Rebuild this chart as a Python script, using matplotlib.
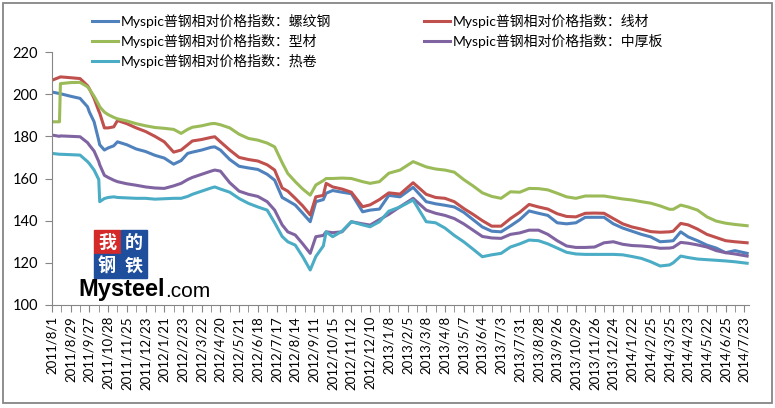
import matplotlib.pyplot as plt
from matplotlib.patches import Rectangle

plt.rcParams['font.family'] = ['Lato', 'Noto Sans CJK SC', 'DejaVu Sans']

# tick labels (one label every 20 trading days)
datas = ['2011/8/1', '2011/8/29', '2011/9/27', '2011/10/28', '2011/11/25', '2011/12/23',
         '2012/1/21', '2012/2/23', '2012/3/22', '2012/4/20', '2012/5/21', '2012/6/18',
         '2012/7/17', '2012/8/14', '2012/9/11', '2012/10/15', '2012/11/12', '2012/12/10',
         '2013/1/8', '2013/2/5', '2013/3/8', '2013/4/8', '2013/5/7', '2013/6/4',
         '2013/7/3', '2013/7/31', '2013/8/28', '2013/9/26', '2013/10/29', '2013/11/26',
         '2013/12/24', '2014/1/22', '2014/2/25', '2014/3/25', '2014/4/23', '2014/5/22',
         '2014/6/25', '2014/7/23']

# trading-day index of each sample
dias = [0, 8, 9, 20, 30, 38, 40, 45, 50, 51, 56, 60, 66, 70, 80, 90, 100, 110, 120, 130,
        138, 145, 150, 160, 170, 174, 180, 190, 200, 210, 220, 230, 238, 246, 252, 260,
        268, 276, 282, 290, 293, 300, 310, 320, 332, 340, 350, 360, 372, 386, 400, 410,
        420, 430, 440, 450, 460, 470, 480, 490, 500, 510, 520, 530, 540, 550, 560, 570,
        580, 590, 600, 610, 620, 630, 640, 650, 660, 664, 672, 680, 690, 700, 710, 720,
        730, 743]

luowengang = [201, 200.3, 200.2, 199, 198, 194, 191.5, 186.9, 178, 176, 173.5, 174.5, 175.5, 177.4,
              176, 174, 172.8, 171, 169.7, 166.8, 168.5, 171.9, 172.5, 173.5, 174.8, 175, 173.5,
              169, 165.8, 165, 164.3, 162, 159.2, 151, 149.5, 147.4, 143.5, 139.5, 149, 150, 153,
              154.3, 153.5, 152.8, 144.2, 145, 145.5, 152, 151.3, 155.8, 149, 148, 147.3, 146.5,
              144, 140.5, 137, 135, 134.7, 137.5, 140.5, 144.6, 143.5, 142.5, 139, 138.5, 139,
              141.6, 141.6, 141.6, 138.5, 136.5, 135, 133.5, 132.3, 130, 130.3, 130.5, 134.7,
              132.3, 130.5, 128.4, 127, 124.8, 125.8, 124.5]

xiancai = [206.6, 208, 208.2, 207.8, 207.4, 204, 202.5, 198, 192, 191, 184, 184, 184.5, 187.5,
           186, 184, 182.3, 180, 177.4, 172.5, 173.5, 176, 177.8, 178.5, 179.5, 179.8, 177.4,
           173.5, 170, 169, 168.3, 166.5, 164, 155.5, 154, 150.6, 147, 142.7, 151.3, 152, 157.7,
           156, 155, 153.5, 146.6, 147.5, 150, 153.2, 152.6, 158, 152.5, 151, 150.6, 149,
           145.8, 143, 140, 137.4, 137.4, 141, 144, 147.7, 146.5, 145.5, 143.3, 142, 141.8,
           143.5, 143.6, 143.5, 141, 138.5, 137, 136, 134.8, 134.5, 134.7, 135, 138.7,
           138, 136, 133.5, 132, 130.5, 130, 129.5]

xingcai = [186.9, 186.9, 205, 205.5, 205.6, 203.5, 202.3, 199, 195, 194, 191.5, 190.3, 189, 188.3,
           187.3, 186, 185, 184.2, 183.8, 183.3, 181.4, 183.3, 184.3, 185, 186, 186.1, 185.5,
           184, 181, 179, 178.2, 176.8, 175, 167.5, 162.4, 158.5, 155, 152.1, 156.9, 159, 160,
           160, 160.2, 160, 158.5, 157.7, 158.5, 162.5, 164, 168, 165.5, 164.5, 164, 163,
           159.5, 156.5, 153.2, 151.5, 150.6, 153.7, 153.5, 155.3, 155.2, 154.6, 153, 151.3,
           150.6, 151.7, 151.7, 151.7, 151, 150.3, 149.8, 149, 148.3, 147, 145.4, 145.4, 147.4,
           146.5, 145, 141.8, 139.8, 138.8, 138.2, 137.6]

zhonghouban = [180.6, 180, 180.2, 180, 179.8, 177, 175.8, 173, 168, 166.5, 161.5, 160.5, 159.2,
               158.5, 157.5, 156.8, 156, 155.5, 155.3, 156.5, 157.7, 159.5, 160.5, 162, 163.5,
               164, 163.5, 158, 154, 152.5, 151.5, 149, 145, 138, 134.7, 133.2, 129, 124.5,
               132.4, 133, 134.7, 134.3, 134.7, 139.5, 138.5, 137.9, 140.5, 143, 146.6, 150.6,
               145, 143.5, 142.5, 141, 138.5, 135.5, 132.5, 131.8, 131.6, 133.5, 134.2, 135.5,
               135.5, 133.5, 130.5, 128, 127.3, 127.3, 127.5, 129.5, 130, 128.8, 128.2, 128,
               127.6, 126.9, 127, 127.3, 129.7, 129.3, 128.5, 127.5, 125.8, 124.8, 124.2, 123.2]

rejuan = [171.9, 171.5, 171.5, 171.3, 171.1, 168, 167, 164, 159.5, 149, 150.5, 151, 151.3, 151,
          150.8, 150.6, 150.6, 150.2, 150.4, 150.6, 150.6, 151.5, 152.5, 154, 155.5, 156, 155,
          153.5, 150.5, 148.2, 146.5, 145, 139, 132.5, 130, 128.4, 122.9, 116.6, 123, 128,
          134.7, 132.4, 135, 139.5, 138, 137.1, 139.5, 144.5, 146.5, 149.8, 139.5, 139, 136.5,
          133, 130, 126.5, 122.9, 123.8, 124.5, 127.5, 129, 130.8, 130.5, 129, 127, 125, 124.2,
          124, 124, 124, 124, 123.8, 123, 122.1, 120.5, 118.5, 119, 120, 123.2, 122.5, 121.8,
          121.5, 121.2, 120.9, 120.5, 119.8]

prefixo = 'Myspic普钢相对价格指数：'
series = [
    (prefixo + '螺纹钢', luowengang, '#4F81BD'),
    (prefixo + '线材', xiancai, '#C0504D'),
    (prefixo + '型材', xingcai, '#9BBB59'),
    (prefixo + '中厚板', zhonghouban, '#8064A2'),
    (prefixo + '热卷', rejuan, '#4BACC6'),
]

W, H = 775, 408
fig = plt.figure(figsize=(W / 100, H / 100), dpi=100)
ax = fig.add_axes([52 / W, 1 - 305 / H, (749 - 52) / W, (305 - 52) / H])

linhas = {}
for nome, valores, cor in series:
    linhas[nome], = ax.plot(dias, valores, color=cor, lw=2.2, label=nome,
                            solid_joinstyle='round')

ax.set_ylim(100, 220)
ax.set_yticks(range(100, 221, 20))
ax.set_xlim(0, 745)
ax.set_xticks(range(0, 20 * len(datas), 20))
ax.set_xticklabels(datas, rotation=90, fontsize=9.5)
ax.set_xticks(range(0, 746, 10), minor=True)

cinza = '#868686'
for lado in ['top', 'right']:
    ax.spines[lado].set_visible(False)
for lado in ['left', 'bottom']:
    ax.spines[lado].set_color(cinza)
ax.tick_params(axis='both', which='both', direction='out', color=cinza, length=5)
ax.tick_params(axis='y', labelsize=10.5, pad=5)
ax.tick_params(axis='x', pad=3)

# legend: Excel order is row by row, matplotlib fills columns
ordem = [0, 2, 4, 1, 3]
nomes = [series[i][0] for i in ordem]
fig.legend([linhas[n] for n in nomes], nomes, ncol=2, loc='upper left',
           bbox_to_anchor=(92 / W, 1 - 14 / H), frameon=False, fontsize=10,
           handlelength=1.9, handletextpad=0.15, columnspacing=6.7,
           labelspacing=0.42, borderpad=0, borderaxespad=0)

# Mysteel logo
quadrados = [(94, 230, '我', '#D42A2A'), (121, 230, '的', '#1F4E9C'),
             (94, 254, '钢', '#1F4E9C'), (121, 254, '铁', '#1F4E9C')]
for x0, y0, txt, cor in quadrados:
    fig.patches.append(Rectangle((x0 / W, 1 - (y0 + 24) / H), 26 / W, 24 / H,
                                 transform=fig.transFigure, color=cor, zorder=5))
    fig.text((x0 + 13) / W, 1 - (y0 + 12) / H, txt, color='white', fontsize=13,
             fontweight='bold', ha='center', va='center', zorder=6,
             family=['Noto Sans CJK SC'])
marca = fig.text(78 / W, 1 - 296 / H, 'Mysteel', fontsize=17, fontweight='bold',
                 family=['Liberation Sans'], color='black', zorder=6)
ax.annotate('.com', xy=(1, 0), xycoords=marca, xytext=(0.5, 0), textcoords='offset points',
            ha='left', va='bottom', fontsize=15, family=['Liberation Sans'],
            color='black', zorder=6, annotation_clip=False)

# chart border
fig.patches.append(Rectangle((3 / W, 1 - 403 / H), 769 / W, 400 / H, transform=fig.transFigure,
                             fill=False, edgecolor=cinza, lw=1.3))

plt.savefig('out.png', dpi=100)
